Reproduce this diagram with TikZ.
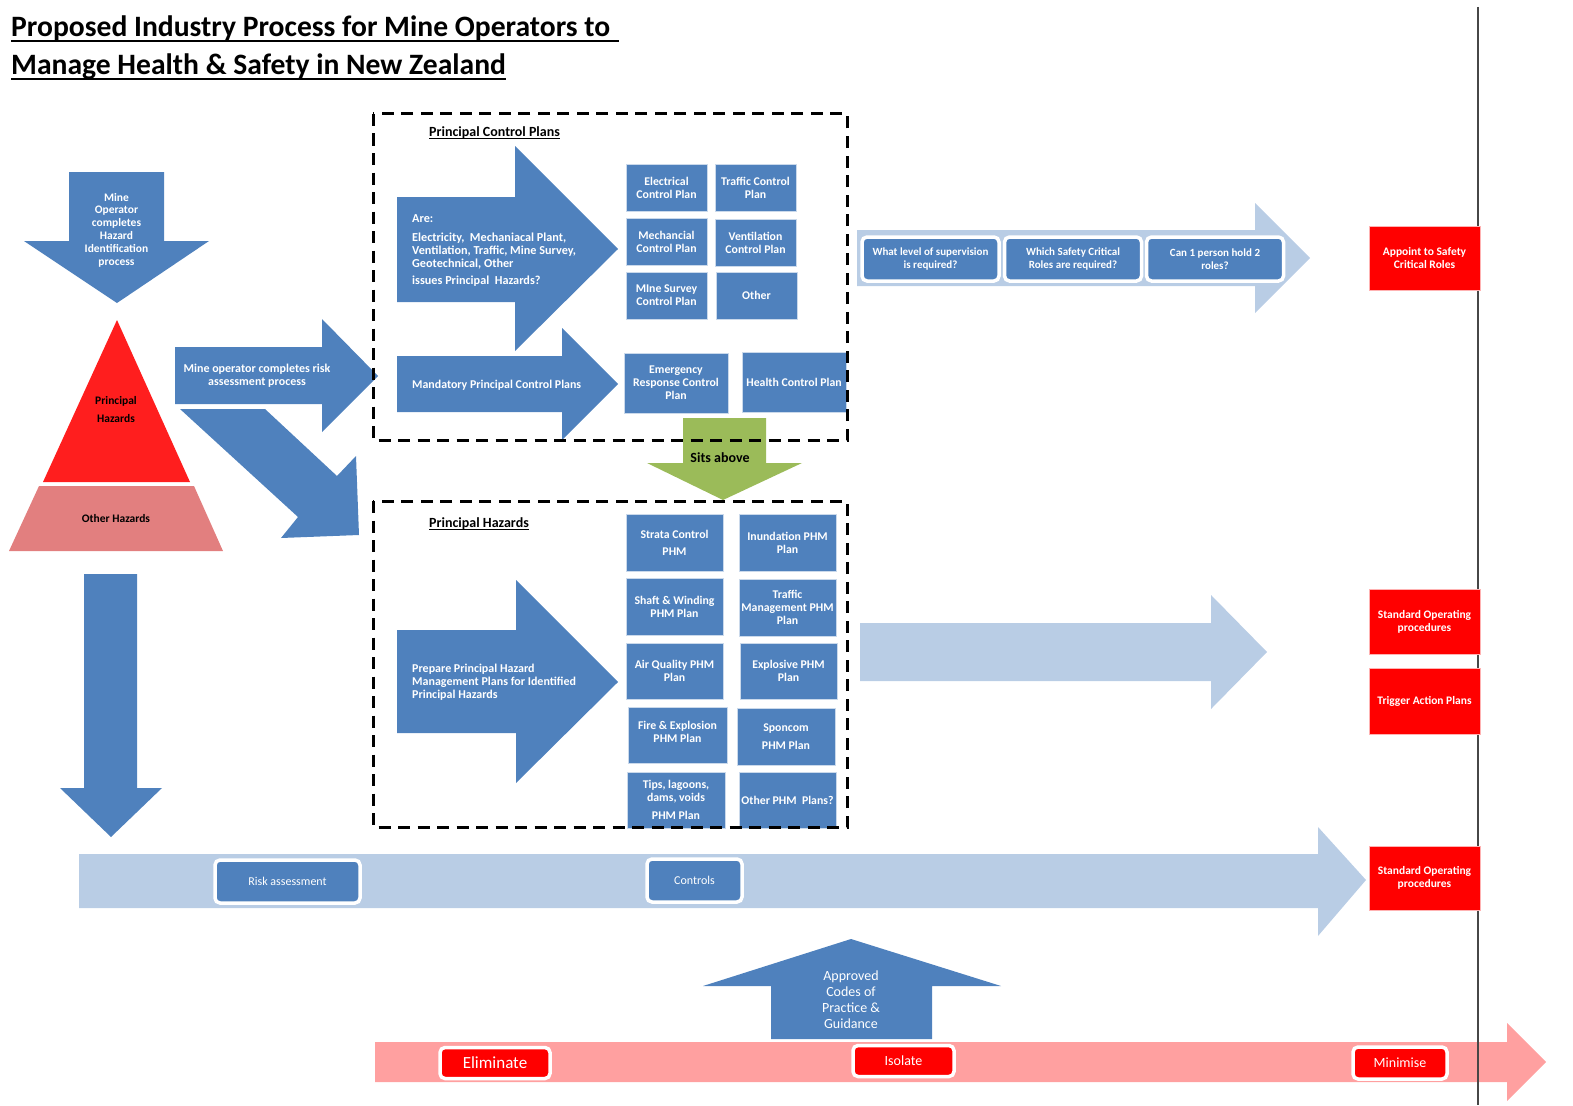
\documentclass[tikz,border=0pt]{standalone}
\usepackage{fontspec}
\setmainfont{Carlito}
\definecolor{ablue}{HTML}{4F81BD}
\definecolor{lblue}{HTML}{B9CDE5}
\definecolor{pred}{HTML}{FF0000}
\definecolor{tred}{HTML}{FF1E1E}
\definecolor{trap}{HTML}{E27F7F}
\definecolor{pinkbar}{HTML}{FFA0A0}
\definecolor{agreen}{HTML}{9BBB59}
\newcommand{\fsz}[2]{\fontsize{#1}{#2}\selectfont}
\begin{document}
\begin{tikzpicture}[x=1pt,y=-1pt,
  wt/.style={text=white,font=\bfseries\fsz{11.5}{13},align=center,inner sep=0pt},
  bt/.style={text=black,font=\bfseries\fsz{11.5}{13},align=center,inner sep=0pt},
  bbox/.style={fill=ablue,draw=white!70!ablue,line width=0.8pt,text=white,font=\bfseries\fsz{11.8}{13},align=center,inner sep=1pt},
  rbox/.style={fill=pred,draw=white!70!pred,line width=0.8pt,text=white,font=\bfseries\fsz{11.5}{13},align=center,inner sep=1pt,minimum width=111},
  btn/.style={draw=white,line width=3.5pt,rounded corners=5pt,align=center,inner sep=1pt,text=white},
  dbox/.style={draw=black,line width=3pt,dash pattern=on 12pt off 7.5pt},
  lbl/.style={text=black,font=\bfseries\fsz{14}{16},anchor=base west,inner sep=0pt}
]
\useasboundingbox (0,0) rectangle (1573,1105);

% title
\node[anchor=base west,inner sep=0pt,font=\bfseries\fsz{29.6}{32}] (title1) at (11,37) {Proposed Industry Process for Mine Operators to};
\node[anchor=base west,inner sep=0pt,font=\bfseries\fsz{29.6}{32}] (title2) at (11,75) {Manage Health \& Safety in New Zealand};
\draw[line width=2pt] ([yshift=-4.5pt]title1.base west) -- ([yshift=-4.5pt,xshift=9pt]title1.base east);
\draw[line width=2pt] ([yshift=-4.5pt]title2.base west) -- ([yshift=-4.5pt]title2.base east);

% left column
\fill[ablue] (69,172) -- (164,172) -- (164,241) -- (209,241) -- (117,303) -- (24,241) -- (69,241) -- cycle;
\node[wt,font=\bfseries\fsz{11.5}{12.8}] (hazid) at (116.5,230) {Mine\\Operator\\completes\\Hazard\\Identification\\process};
\fill[tred] (117,320) -- (190,482) -- (43,482) -- cycle;
\node[bt] (ph) at (116,410) {Principal\\[5pt]Hazards};
\fill[trap] (39,486) -- (194,486) -- (223,551) -- (9,551) -- cycle;
\node[bt] (oh) at (116,519) {Other Hazards};
\fill[ablue] (84,574) -- (137,574) -- (137,788) -- (162,788) -- (111,837) -- (60,788) -- (84,788) -- cycle;

% risk assessment arrows
\fill[ablue] (175,347) -- (322,347) -- (322,319) -- (378,376) -- (322,432) -- (322,404) -- (175,404) -- cycle;
\node[wt,font=\bfseries\fsz{12}{13}] (riskproc) at (257,376) {Mine operator completes risk\\assessment process};
\fill[ablue] (180,409) -- (265,409) -- (337,476) -- (356,456) -- (359,535) -- (281,538) -- (298,517) -- cycle;

% green arrow
\fill[agreen] (683,418) -- (766,418) -- (766,463) -- (802,463) -- (723,500) -- (647,463) -- (683,463) -- cycle;
\node[bt,font=\bfseries\fsz{14}{16}] (sits) at (720,458) {Sits above};

% principal control plans
\node[lbl] (pcpl) at (429,136) {Principal Control Plans};
\draw[line width=1.2pt] ([yshift=-2.5pt]pcpl.base west) -- ([yshift=-2.5pt]pcpl.base east);
\fill[ablue] (397,197) -- (515,197) -- (515,146) -- (618,249) -- (515,351) -- (515,302) -- (397,302) -- cycle;
\node[wt,align=left,anchor=west,font=\bfseries\fsz{12.2}{13}] (are) at (412,251) {Are:\\[6pt]Electricity,~~Mechaniacal Plant,\\Ventilation, Traffic, Mine Survey,\\Geotechnical, Other\\[4pt]issues Principal~~Hazards?};
\fill[ablue] (397,356) -- (562,356) -- (562,328) -- (618,384) -- (562,440) -- (562,412) -- (397,412) -- cycle;
\node[wt,anchor=west,font=\bfseries\fsz{11.9}{13}] (mand) at (412,385) {Mandatory Principal Control Plans};

\node[bbox,minimum width=81,minimum height=47] (elec) at (666.5,187.5) {Electrical\\Control Plan};
\node[bbox,minimum width=81,minimum height=47] (traf) at (755.5,187.5) {Traffic Control\\Plan};
\node[bbox,minimum width=81,minimum height=47] (mech) at (666.5,241.5) {Mechancial\\Control Plan};
\node[bbox,minimum width=81,minimum height=47] (vent) at (755.5,242.5) {Ventilation\\Control Plan};
\node[bbox,minimum width=81,minimum height=47] (msur) at (666.5,295.5) {MIne Survey\\Control Plan};
\node[bbox,minimum width=81,minimum height=47] (oth) at (756.5,295.5) {Other};
\node[bbox,minimum width=104,minimum height=60] (emer) at (676,383) {Emergency\\Response Control\\Plan};
\node[bbox,minimum width=104,minimum height=60] (hlth) at (794,382) {Health Control Plan};

% principal hazards
\node[lbl] (phl) at (429,527) {Principal Hazards};
\draw[line width=1.2pt] ([yshift=-2.5pt]phl.base west) -- ([yshift=-2.5pt]phl.base east);
\fill[ablue] (397,630) -- (516,630) -- (516,580) -- (618,682) -- (516,783) -- (516,733) -- (397,733) -- cycle;
\node[wt,anchor=west,align=left,font=\bfseries\fsz{12}{13}] (prep) at (412,682) {Prepare Principal Hazard\\Management Plans for Identified\\Principal Hazards};

\node[bbox,minimum width=97,minimum height=57] (strata) at (674.5,542.5) {Strata Control\\[4pt]PHM};
\node[bbox,minimum width=97,minimum height=57] (inund) at (787.5,542.5) {Inundation PHM\\Plan};
\node[bbox,minimum width=97,minimum height=57] (shaft) at (674.5,606.5) {Shaft \& Winding\\PHM Plan};
\node[bbox,minimum width=97,minimum height=57] (trafm) at (787.5,607.5) {Traffic\\Management PHM\\Plan};
\node[bbox,minimum width=97,minimum height=56] (air) at (674.5,671) {Air Quality PHM\\Plan};
\node[bbox,minimum width=97,minimum height=56] (expl) at (788.5,671) {Explosive PHM\\Plan};
\node[bbox,minimum width=99,minimum height=56] (fire) at (677.5,735) {Fire \& Explosion\\PHM Plan\\[-6pt]};
\node[bbox,minimum width=98,minimum height=57] (spon) at (786,736.5) {Sponcom\\[5pt]PHM Plan};
\node[bbox,minimum width=98,minimum height=56] (tips) at (676,800) {Tips, lagoons,\\dams, voids\\[5pt]PHM Plan};
\node[bbox,minimum width=97,minimum height=56] (othphm) at (787.5,800) {Other PHM~~Plans?};

% dashed frames
\draw[dbox] (373,114) rectangle (847,440);
\draw[dbox] (373,501) rectangle (847,827);

% top right arrow
\fill[lblue] (857,230) -- (1255,230) -- (1255,203) -- (1310,258) -- (1255,313) -- (1255,286) -- (857,286) -- cycle;
\node[btn,fill=ablue,font=\bfseries\fsz{11}{12.5},minimum width=137,minimum height=44] (q1) at (930.5,259) {What level of supervision\\is required?};
\node[btn,fill=ablue,font=\bfseries\fsz{11}{12.5},minimum width=137,minimum height=44] (q2) at (1073,259) {Which Safety Critical\\Roles are required?};
\node[btn,fill=ablue,font=\bfseries\fsz{11}{12.5},minimum width=137,minimum height=44] (q3) at (1215,259) {Can 1 person hold 2\\roles?};

% middle arrow
\fill[lblue] (860,623) -- (1211,623) -- (1211,595) -- (1267,652) -- (1211,709) -- (1211,681) -- (860,681) -- cycle;

% bottom light blue arrow
\fill[lblue] (79,854) -- (1318,854) -- (1318,827) -- (1366,880) -- (1318,936) -- (1318,908) -- (79,908) -- cycle;
\node[btn,fill=ablue,font=\fsz{12}{14},minimum width=145,minimum height=43] (riskb) at (287.5,881.5) {Risk assessment};
\node[btn,fill=ablue,font=\fsz{12}{14},minimum width=95,minimum height=43] (ctrl) at (694.5,880.5) {Controls};

% approved codes
\fill[ablue] (851,939) -- (1001,986) -- (932,986) -- (932,1039) -- (771,1039) -- (771,986) -- (703,986) -- cycle;
\node[wt,font=\fsz{14}{16}] (acop) at (851,1000) {Approved\\Codes of\\Practice \&\\Guidance};

% pink bar
\fill[pinkbar] (375,1042) -- (1507,1042) -- (1507,1023) -- (1546,1062) -- (1507,1101) -- (1507,1082) -- (375,1082) -- cycle;
\node[btn,fill=pred,font=\fsz{17}{19},minimum width=110,minimum height=31] (elim) at (495,1063) {Eliminate};
\node[btn,fill=pred,font=\fsz{14}{16},minimum width=101,minimum height=31] (isol) at (903.5,1061) {Isolate};
\node[btn,fill=pred,font=\fsz{14}{16},minimum width=94,minimum height=32] (mini) at (1400,1063) {Minimise};

% vertical divider
\coordinate (vtop) at (1478,7);
\coordinate (vbot) at (1478,1105);
\draw[black!72,line width=2.5pt] (vtop) -- (vbot);

% red outcome boxes
\node[rbox,minimum height=64] (appoint) at (1424.5,258) {Appoint to Safety\\Critical Roles};
\node[rbox,minimum height=65] (sop1) at (1424.5,621.5) {Standard Operating\\procedures};
\node[rbox,minimum height=66] (tap) at (1424.5,701) {Trigger Action Plans};
\node[rbox,minimum height=64] (sop2) at (1424.5,878) {Standard Operating\\procedures};
\end{tikzpicture}
\end{document}
